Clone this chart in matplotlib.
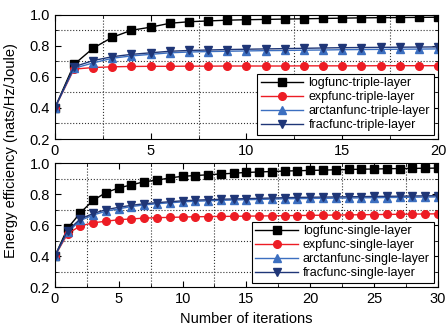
import numpy as np
import matplotlib
matplotlib.use("Agg")
import matplotlib.pyplot as plt
from matplotlib.ticker import MultipleLocator

plt.rcParams["font.family"] = ["Liberation Sans", "DejaVu Sans"]

# triple-layer, iterations 0..20
iter_top = list(range(21))
log_triple = [0.40, 0.68, 0.785, 0.855, 0.90, 0.92, 0.945, 0.955, 0.96, 0.965, 0.968,
              0.970, 0.972, 0.974, 0.976, 0.978, 0.980, 0.981, 0.982, 0.983, 0.984]
exp_triple = [0.40, 0.65, 0.66, 0.665, 0.667, 0.668, 0.668, 0.669, 0.669, 0.670, 0.670,
              0.670, 0.670, 0.671, 0.671, 0.671, 0.671, 0.672, 0.672, 0.672, 0.672]
arctan_triple = [0.40, 0.655, 0.69, 0.72, 0.735, 0.745, 0.755, 0.76, 0.763, 0.765, 0.767,
                 0.769, 0.770, 0.772, 0.773, 0.775, 0.776, 0.777, 0.778, 0.779, 0.780]
frac_triple = [0.40, 0.665, 0.705, 0.73, 0.745, 0.755, 0.765, 0.77, 0.773, 0.776, 0.778,
               0.780, 0.782, 0.784, 0.786, 0.788, 0.789, 0.790, 0.791, 0.792, 0.793]

# single-layer, iterations 0..30
iter_bot = list(range(31))
log_single = [0.40, 0.58, 0.68, 0.76, 0.81, 0.84, 0.86, 0.88, 0.89, 0.905, 0.915,
              0.92, 0.925, 0.93, 0.935, 0.94, 0.943, 0.946, 0.949, 0.951, 0.953,
              0.955, 0.957, 0.959, 0.961, 0.962, 0.964, 0.965, 0.966, 0.967, 0.968]
exp_single = [0.40, 0.545, 0.595, 0.615, 0.625, 0.635, 0.64, 0.645, 0.648, 0.65, 0.652,
              0.654, 0.655, 0.656, 0.657, 0.658, 0.659, 0.660, 0.661, 0.662, 0.663,
              0.664, 0.665, 0.666, 0.667, 0.668, 0.669, 0.670, 0.671, 0.672, 0.673]
arctan_single = [0.40, 0.555, 0.63, 0.665, 0.69, 0.705, 0.72, 0.73, 0.738, 0.744, 0.75,
                 0.754, 0.757, 0.760, 0.762, 0.764, 0.766, 0.768, 0.770, 0.771, 0.772,
                 0.773, 0.774, 0.775, 0.776, 0.777, 0.778, 0.779, 0.780, 0.781, 0.782]
frac_single = [0.40, 0.565, 0.64, 0.675, 0.70, 0.715, 0.728, 0.738, 0.745, 0.751, 0.757,
               0.761, 0.764, 0.767, 0.769, 0.771, 0.773, 0.775, 0.777, 0.779, 0.780,
               0.781, 0.782, 0.783, 0.784, 0.785, 0.786, 0.787, 0.788, 0.789, 0.790]

styles = [
    ("logfunc", "black", "s"),
    ("expfunc", "#ed1c24", "o"),
    ("arctanfunc", "#3c6fc0", "^"),
    ("fracfunc", "#1f3677", "v"),
]

fig = plt.figure(figsize=(4.46, 3.35), dpi=100)
ax1 = fig.add_axes([0.123, 0.585, 0.859, 0.371])
ax2 = fig.add_axes([0.123, 0.143, 0.859, 0.370])


def draw(ax, x, series, suffix, xmax):
    for (name, color, marker), ys in zip(styles, series):
        ax.plot(x, ys, color=color, marker=marker, markersize=5.5, linewidth=1,
                markeredgecolor=color, label=f"{name}-{suffix}")
    ax.set_xlim(0, xmax)
    ax.set_ylim(0.2, 1.0)
    ax.xaxis.set_major_locator(MultipleLocator(5))
    ax.xaxis.set_minor_locator(MultipleLocator(2.5))
    ax.yaxis.set_major_locator(MultipleLocator(0.2))
    ax.yaxis.set_minor_locator(MultipleLocator(0.1))
    ax.grid(which="minor", color="#333333", linestyle=":", linewidth=0.8)
    ax.tick_params(which="both", direction="in", top=True, right=True, labelsize=10.5)
    ax.tick_params(which="major", length=4)
    ax.tick_params(which="minor", length=2.5)
    ax.yaxis.set_major_formatter(matplotlib.ticker.FormatStrFormatter("%.1f"))
    leg = ax.legend(loc="lower right", fontsize=9, handlelength=3.4, borderpad=0.3,
                    labelspacing=0.15, handletextpad=0.4, fancybox=False,
                    framealpha=1, edgecolor="black", borderaxespad=0.35)
    leg.get_frame().set_linewidth(0.8)


draw(ax1, iter_top, [log_triple, exp_triple, arctan_triple, frac_triple], "triple-layer", 20)
draw(ax2, iter_bot, [log_single, exp_single, arctan_single, frac_single], "single-layer", 30)

ax2.set_xlabel("Number of iterations", fontsize=10.5)
fig.text(0.025, 0.55, "Energy efficiency (nats/Hz/Joule)", rotation=90,
         va="center", ha="center", fontsize=10.5)

fig.savefig("out.png", dpi=100)
